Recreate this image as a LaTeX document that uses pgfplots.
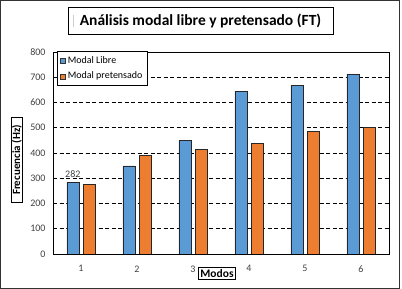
\documentclass[border=0pt]{standalone}
\usepackage{pgfplots}
\pgfplotsset{compat=1.18}
\usepackage{fontspec}
\setmainfont{Carlito}
\definecolor{cblue}{HTML}{5B9BD5}
\definecolor{corange}{HTML}{ED7D31}
\definecolor{tickgray}{HTML}{404040}
\begin{document}
\begin{tikzpicture}[x=1pt,y=1pt]
\useasboundingbox (0,0) rectangle (402,289);
\draw[line width=1pt, draw=black!80] (0.8,0.8) rectangle (399.5,288.2);
\begin{axis}[
  at={(53pt,35pt)}, anchor=south west,
  scale only axis, width=336pt, height=202pt,
  xmin=0.5, xmax=6.5, ymin=0, ymax=800,
  ybar=4.4pt, bar width=12pt,
  xtick={1,...,6}, ytick={0,100,...,800},
  major tick length=0pt,
  /pgf/number format/assume math mode=true,
  ymajorgrids,
  grid style={black, dash pattern=on 4pt off 2.5pt, line width=0.9pt},
  axis line style={black, line width=0.8pt},
  tick label style={font=\fontsize{10}{11}\selectfont, text=tickgray},
  yticklabel style={xshift=-4pt},
  xticklabel style={yshift=-8pt},
  legend style={at={(rel axis cs:0.012,1.004)}, anchor=north west, draw=black, line width=0.8pt,
    font=\fontsize{10}{11}\selectfont, row sep=3pt, inner xsep=3pt, inner ysep=3pt},
  legend cell align=left,
  legend image code/.code={\draw[#1, draw=black!80, line width=0.4pt] (0pt,-2.5pt) rectangle (5pt,2.5pt);},
  nodes near coords, point meta=explicit symbolic,
  every node near coord/.append style={font=\fontsize{10}{11}\selectfont, text=tickgray, yshift=2pt},
]
\addplot[fill=cblue, draw=black!85, line width=0.6pt] coordinates {(1,282)[282] (2,349)[] (3,449)[] (4,644)[] (5,668)[] (6,712)[]};
\addplot[fill=corange, draw=black!85, line width=0.6pt] coordinates {(1,275)[] (2,391)[] (3,413)[] (4,439)[] (5,486)[] (6,502)[]};
\legend{Modal Libre, Modal pretensado}
\end{axis}
\node[draw, line width=0.9pt, minimum width=265pt, minimum height=27pt, inner sep=0pt,
  font=\fontsize{15.5}{17}\selectfont\bfseries] at (200.5,268.5) {Análisis modal libre y pretensado (FT)};
\draw[black!20, line width=1pt] (73,262) -- (73,274);
\node[draw, line width=0.9pt, rotate=90, inner xsep=1pt, inner ysep=1pt, minimum width=85pt,
  font=\fontsize{11}{12}\selectfont\bfseries] at (17,129) {Frecuencia (Hz)};
\node[draw, line width=0.9pt, inner xsep=2pt, inner ysep=1.5pt, fill=white,
  font=\fontsize{11.5}{12}\selectfont\bfseries] at (217,15.5) {Modos};
\end{tikzpicture}
\end{document}
